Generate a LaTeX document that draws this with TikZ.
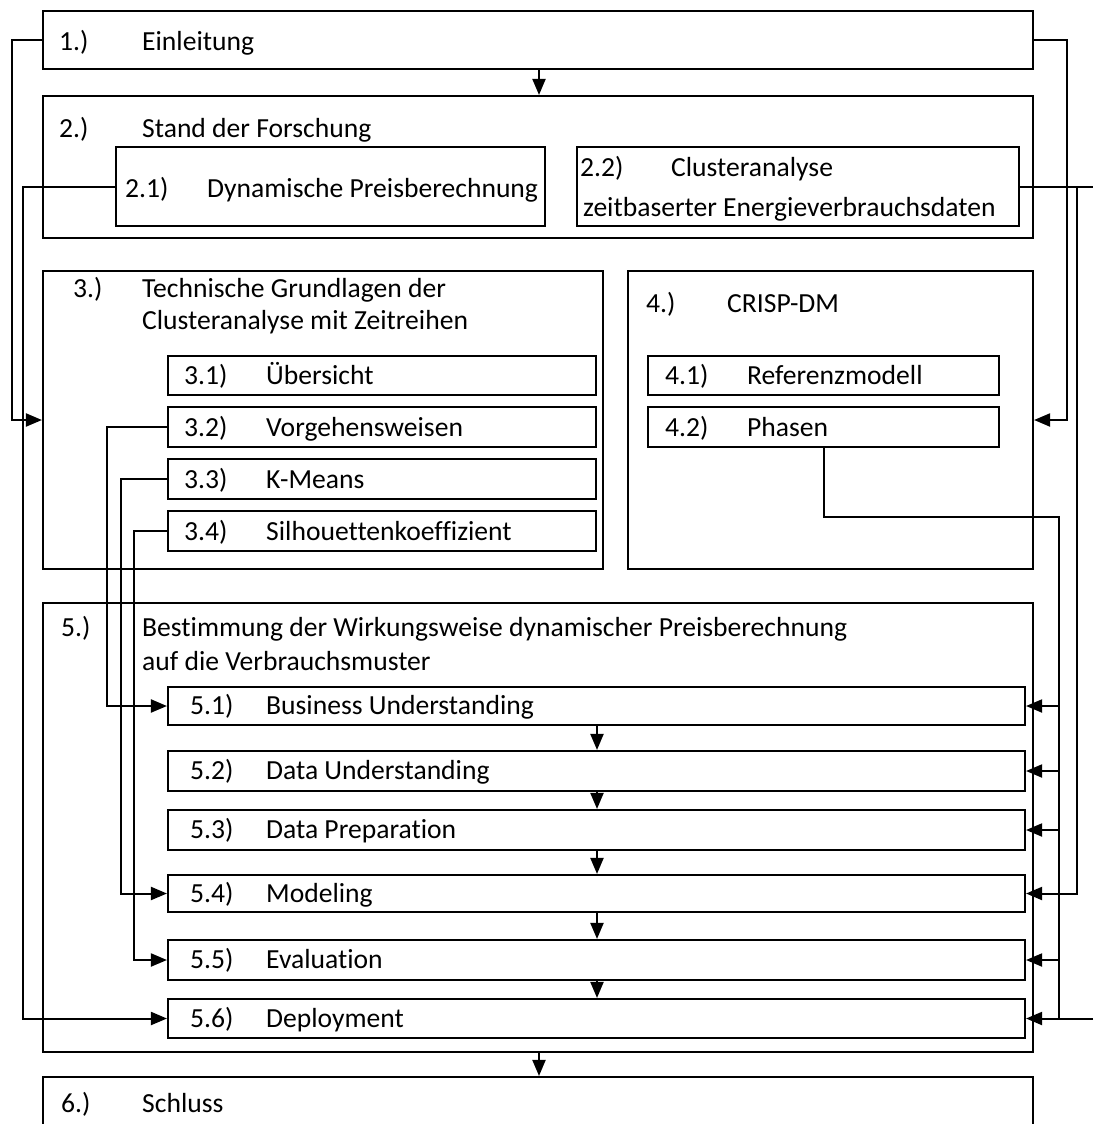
\documentclass[tikz,border=0pt]{standalone}
\usepackage{fontspec}
\setmainfont[Ligatures={NoCommon}]{Carlito}
\usetikzlibrary{arrows.meta,fit}
\begin{document}
\begin{tikzpicture}[x=1pt,y=-1pt,
  box/.style={draw, line width=2.1pt, inner sep=0pt},
  lbl/.style={anchor=base west, inner sep=0pt, font=\fontsize{27.6}{32}\selectfont},
  conn/.style={line width=2pt},
  arr/.style={conn, -{Triangle[length=16pt,width=13pt]}}]
\useasboundingbox (0,0) rectangle (1093,1124);
% boxes
\node[box, fit={(43,11) (1033,69)}] (b1) {};
\node[box, fit={(43,96) (1033,238)}] (b2) {};
\node[box, fit={(116,147) (545,226)}] (b21) {};
\node[box, fit={(577,147) (1019,226)}] (b22) {};
\node[box, fit={(43,271) (603,569)}] (b3) {};
\node[box, fit={(168,356) (596,395)}] (b31) {};
\node[box, fit={(168,407) (596,447)}] (b32) {};
\node[box, fit={(168,459) (596,499)}] (b33) {};
\node[box, fit={(168,511) (596,551)}] (b34) {};
\node[box, fit={(628,271) (1033,569)}] (b4) {};
\node[box, fit={(648,356) (999,395)}] (b41) {};
\node[box, fit={(648,407) (999,447)}] (b42) {};
\node[box, fit={(43,603) (1033,1052)}] (b5) {};
\node[box, fit={(168,687) (1025,725)}] (b51) {};
\node[box, fit={(168,751) (1025,791)}] (b52) {};
\node[box, fit={(168,810) (1025,850)}] (b53) {};
\node[box, fit={(168,875) (1025,912)}] (b54) {};
\node[box, fit={(168,940) (1025,980)}] (b55) {};
\node[box, fit={(168,999) (1025,1038)}] (b56) {};
\node[box, fit={(43,1077) (1033,1160)}] (b6) {};
% labels
\node[lbl] (n1) at (59,51) {1.)};
\node[lbl] (t1) at (142,51) {Einleitung};
\node[lbl] (n2) at (59,137) {2.)};
\node[lbl] (t2) at (142,137) {Stand der Forschung};
\node[lbl] (n21) at (125,197) {2.1)};
\node[lbl] (t21) at (207,197) {Dynamische Preisberechnung};
\node[lbl] (n22) at (580,176) {2.2)};
\node[lbl] (t22) at (671,176) {Clusteranalyse};
\node[lbl] (t22b) at (583,216) {zeitbaserter Energieverbrauchsdaten};
\node[lbl] (n3) at (73,297) {3.)};
\node[lbl] (t3) at (142,297) {Technische Grundlagen der};
\node[lbl] (t3b) at (142,329) {Clusteranalyse mit Zeitreihen};
\node[lbl] (n31) at (184,384) {3.1)};
\node[lbl] (t31) at (266,384) {Übersicht};
\node[lbl] (n32) at (184,436) {3.2)};
\node[lbl] (t32) at (266,436) {Vorgehensweisen};
\node[lbl] (n33) at (184,488) {3.3)};
\node[lbl] (t33) at (266,488) {K-Means};
\node[lbl] (n34) at (184,540) {3.4)};
\node[lbl] (t34) at (266,540) {Silhouettenkoeffizient};
\node[lbl] (n4) at (646,312) {4.)};
\node[lbl] (t4) at (727,312) {CRISP-DM};
\node[lbl] (n41) at (665,384) {4.1)};
\node[lbl] (t41) at (747,384) {Referenzmodell};
\node[lbl] (n42) at (665,436) {4.2)};
\node[lbl] (t42) at (747,436) {Phasen};
\node[lbl] (n5) at (61,636) {5.)};
\node[lbl] (t5) at (142,636) {Bestimmung der Wirkungsweise dynamischer Preisberechnung};
\node[lbl] (t5b) at (142,670) {auf die Verbrauchsmuster};
\node[lbl] (n51) at (190,714.5) {5.1)};
\node[lbl] (t51) at (266,714.5) {Business Understanding};
\node[lbl] (n52) at (190,779.5) {5.2)};
\node[lbl] (t52) at (266,779.5) {Data Understanding};
\node[lbl] (n53) at (190,838.5) {5.3)};
\node[lbl] (t53) at (266,838.5) {Data Preparation};
\node[lbl] (n54) at (190,902) {5.4)};
\node[lbl] (t54) at (266,902) {Modeling};
\node[lbl] (n55) at (190,968.5) {5.5)};
\node[lbl] (t55) at (266,968.5) {Evaluation};
\node[lbl] (n56) at (190,1027) {5.6)};
\node[lbl] (t56) at (266,1027) {Deployment};
\node[lbl] (n6) at (61,1112) {6.)};
\node[lbl] (t6) at (142,1112) {Schluss};
% helper coordinates
\coordinate (mx) at (539,0);
\coordinate (dx) at (597,0);
\coordinate (c42) at (1059,517);
\coordinate (c22) at (1077,0);
\coordinate (redge) at (1093,0);
% connectors
\draw[arr] (b1.south -| mx) -- (b2.north -| mx);
\draw[arr] (b5.south -| mx) -- (b6.north -| mx);
\draw[arr] (b1.west) -- ++(-30,0) |- (b3.west);
\draw[arr] (b1.east) -- ++(33,0) |- (b4.east);
\draw[arr] (b21.west) -- ++(-92,0) |- (b56.west);
\draw[arr] (b32.west) -- ++(-60,0) |- (b51.west);
\draw[arr] (b33.west) -- ++(-46,0) |- (b54.west);
\draw[arr] (b34.west) -- ++(-33,0) |- (b55.west);
\draw[conn] (b42.south) |- (c42) -- (c42 |- b56.east);
\foreach \n in {51,52,53,55} \draw[arr] (c42 |- b\n.east) -- (b\n.east);
\draw[conn] (b22.east) -- (b22.east -| redge);
\draw[arr] (b22.east -| c22) |- (b54.east);
\draw[arr] (b56.east -| redge) -- (b56.east);
\foreach \a/\b in {51/52,52/53,53/54,54/55,55/56}
  \draw[arr] (b\a.south -| dx) -- (b\b.north -| dx);
\end{tikzpicture}
\end{document}
